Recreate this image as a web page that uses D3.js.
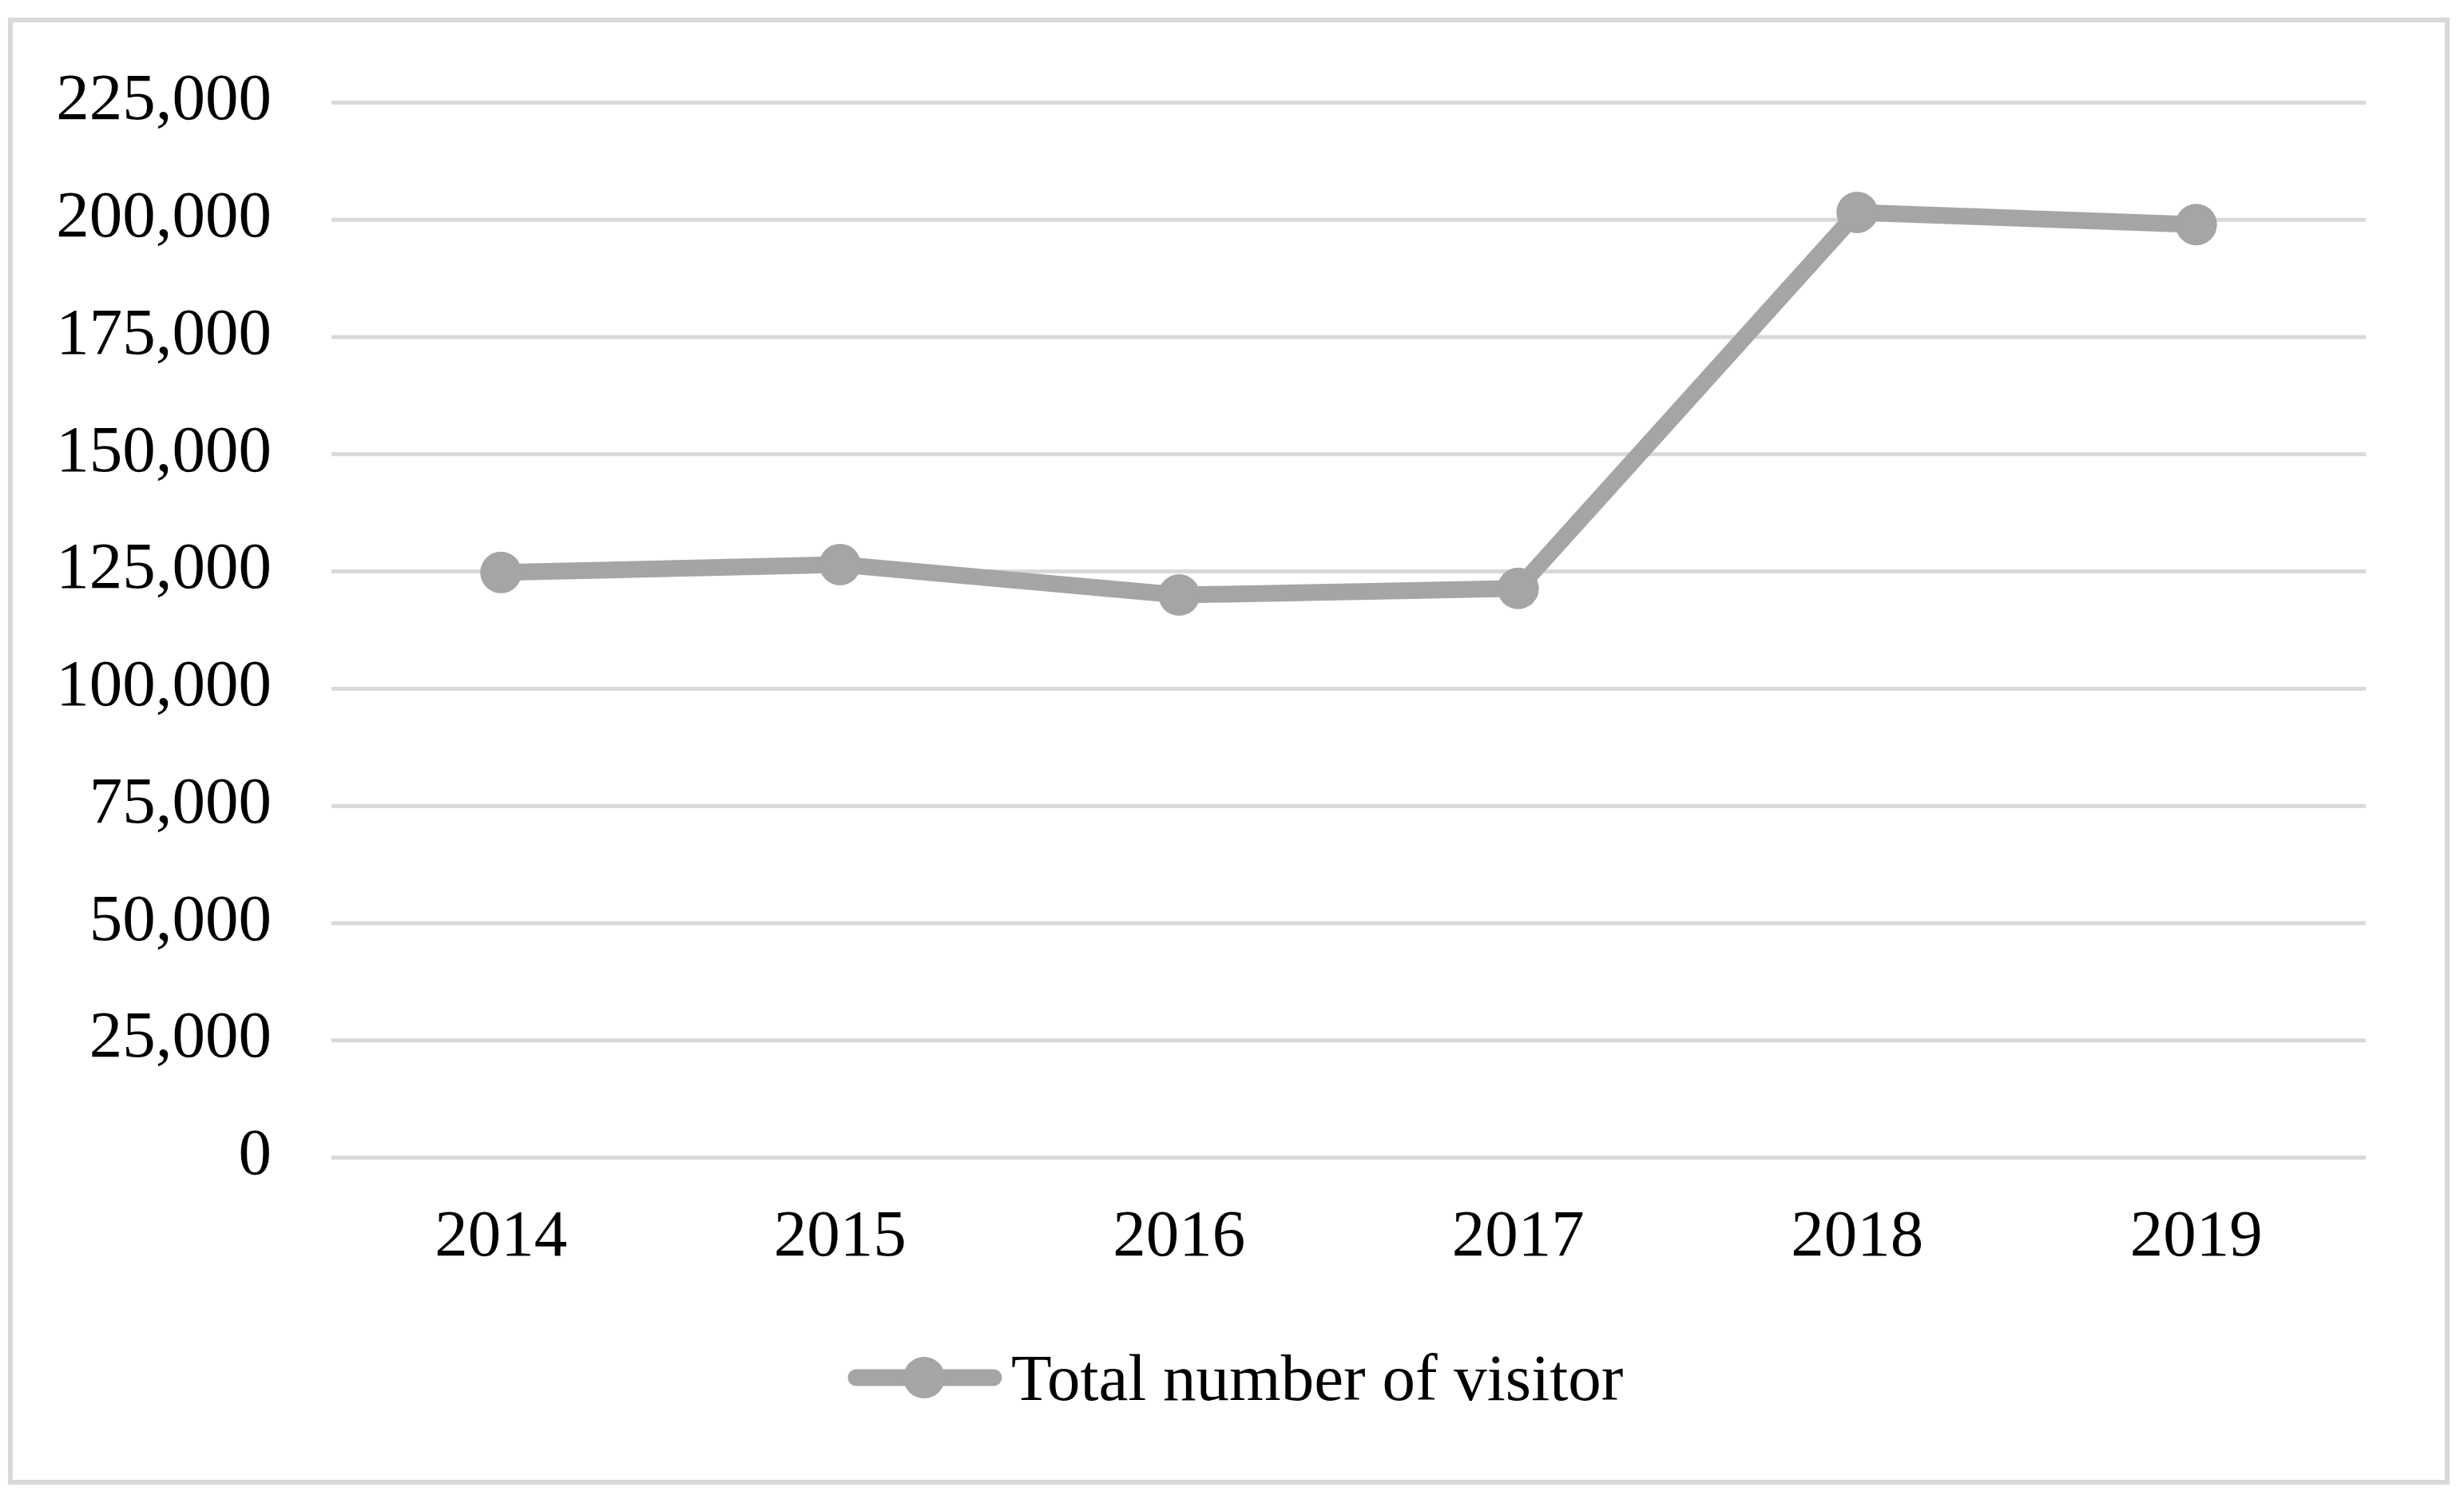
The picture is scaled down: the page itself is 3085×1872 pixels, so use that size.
<!DOCTYPE html>
<html>
<head>
<meta charset="utf-8">
<script src="https://cdn.jsdelivr.net/npm/d3@7"></script>
<style>
  html, body { margin: 0; padding: 0; background: #ffffff; }
  svg { display: block; }
</style>
</head>
<body>
<svg id="chart" width="3085" height="1872"></svg>
<script>
const years = ["2014", "2015", "2016", "2017", "2018", "2019"];
const visitors = [124700, 126400, 119900, 121300, 201500, 198900];
const yTicks = [0, 25000, 50000, 75000, 100000, 125000, 150000, 175000, 200000, 225000];
const seriesName = "Total number of visitor";

(function () {
const W = 3085, H = 1872;
const plotLeft = 415, plotRight = 2962, plotTop = 128, plotBottom = 1449;
const lineColor = "#a5a5a5";
const gridColor = "#d9d9d9";
const font = "'Liberation Serif', 'Times New Roman', serif";
const fontSize = 83;

const svg = d3.select("#chart");
svg.append("rect").attr("width", W).attr("height", H).attr("fill", "#fff");
svg.append("rect")
  .attr("x", 13).attr("y", 25).attr("width", 3051).attr("height", 1831)
  .attr("fill", "none").attr("stroke", gridColor).attr("stroke-width", 6);

const x = d3.scaleBand().domain(years).range([plotLeft, plotRight]).padding(0);
const y = d3.scaleLinear().domain([0, 225000]).range([plotBottom, plotTop]);
const fmt = d3.format(",");

// y axis with gridlines
const yAxis = svg.append("g")
  .attr("transform", `translate(${plotLeft},0)`)
  .call(d3.axisLeft(y).tickValues(yTicks).tickFormat(d => fmt(d)).tickSize(-(plotRight - plotLeft)).tickPadding(75));
yAxis.select(".domain").remove();
yAxis.selectAll(".tick line").attr("stroke", gridColor).attr("stroke-width", 5);
yAxis.selectAll(".tick text")
  .attr("fill", "#000").attr("font-family", font).attr("font-size", fontSize)
  .attr("dy", "0.25em");

// x axis labels
const xAxis = svg.append("g")
  .attr("transform", `translate(0,${plotBottom})`)
  .call(d3.axisBottom(x).tickSize(0).tickPadding(64));
xAxis.select(".domain").remove();
xAxis.selectAll(".tick text")
  .attr("fill", "#000").attr("font-family", font).attr("font-size", fontSize);

const data = years.map((yr, i) => ({ yr, v: visitors[i] }));
const cx = d => x(d.yr) + x.bandwidth() / 2;

svg.append("path")
  .datum(data)
  .attr("fill", "none")
  .attr("stroke", lineColor)
  .attr("stroke-width", 21)
  .attr("stroke-linejoin", "round")
  .attr("d", d3.line().x(cx).y(d => y(d.v)));

svg.append("g").selectAll("circle").data(data).join("circle")
  .attr("cx", cx).attr("cy", d => y(d.v)).attr("r", 26)
  .attr("fill", lineColor);

// legend
const lg = svg.append("g").attr("transform", "translate(1060,1725)");
lg.append("line").attr("x1", 12).attr("x2", 184).attr("y1", 0).attr("y2", 0)
  .attr("stroke", lineColor).attr("stroke-width", 21).attr("stroke-linecap", "round");
lg.append("circle").attr("cx", 97).attr("cy", 0).attr("r", 26).attr("fill", lineColor);
lg.append("text").attr("x", 206).attr("y", 28)
  .attr("font-family", font).attr("font-size", fontSize).attr("fill", "#000")
  .text(seriesName);
})();
</script>
</body>
</html>
